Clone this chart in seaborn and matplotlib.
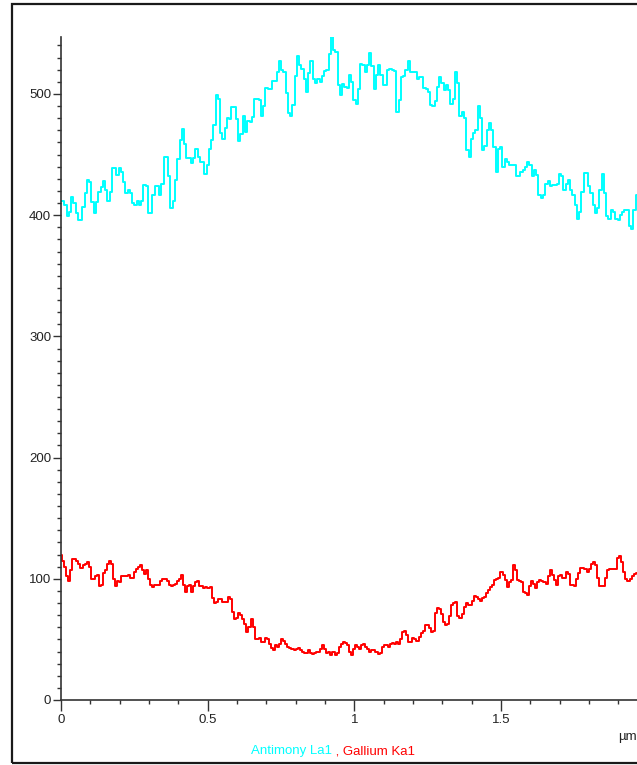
import matplotlib

matplotlib.use("Agg")
import matplotlib.pyplot as plt
import numpy as np
import pandas as pd
import seaborn as sns
from matplotlib.patches import Rectangle
from matplotlib.ticker import FuncFormatter, MultipleLocator

# line scan length (um) and counts
scan_length = 1.963

antimony_counts = [
    # 0 - 0.65 um
    412, 412, 408, 399, 403, 415, 410, 402, 396, 396, 407, 418, 429, 427, 411, 402,
    411, 419, 423, 428, 421, 412, 419, 439, 439, 433, 439, 436, 427, 418, 421, 418,
    410, 408, 412, 408, 412, 425, 424, 402, 402, 417, 424, 424, 417, 426, 448, 448,
    432, 406, 412, 429, 446, 462, 471, 459, 447, 447, 443, 447, 455, 448, 444, 444,
    434, 441, 455, 462, 474, 499, 496, 468, 463, 472, 480, 479, 489, 489, 479, 461,
    467, 482, 469,
    # 0.65 - 1.31 um
    478, 477, 481, 496, 496, 495, 482, 490, 505, 504, 504, 511, 511, 518, 527, 520,
    518, 501, 484, 482, 491, 515, 531, 524, 521, 512, 502, 517, 527, 512, 509, 512,
    510, 515, 519, 520, 533, 548, 536, 535, 507, 499, 508, 506, 505, 516, 510, 495,
    492, 504, 525, 524, 518, 524, 534, 523, 504, 516, 524, 516, 507, 507, 520, 521,
    520, 519, 485, 495, 514, 515, 520, 527, 518, 518, 518, 512, 514, 514, 505, 504,
    502, 491, 490, 494, 506, 514, 509, 503, 507, 503,
    # 1.31 - 1.96 um
    492, 496, 518, 509, 482, 485, 480, 454, 448, 463, 468, 470, 490, 480, 454, 457,
    470, 476, 470, 456, 436, 455, 456, 440, 446, 444, 441, 441, 441, 432, 432, 436,
    437, 440, 444, 441, 432, 437, 433, 417, 414, 417, 426, 428, 424, 425, 425, 426,
    434, 432, 421, 426, 429, 421, 417, 408, 397, 403, 419, 435, 435, 424, 418, 408,
    402, 406, 421, 434, 418, 399, 397, 404, 403, 397, 396, 400, 403, 404, 404, 391,
    389, 404, 417,
]

gallium_counts = [
    # 0 - 0.65 um
    120, 115, 110, 102, 98, 107, 116, 116, 115, 112, 109, 111, 112, 114, 110, 100,
    100, 102, 103, 94, 95, 105, 107, 112, 115, 112, 100, 94, 98, 97, 102, 102,
    102, 103, 101, 101, 106, 108, 110, 111, 107, 104, 107, 100, 95, 93, 95, 95,
    95, 98, 100, 100, 98, 95, 94, 95, 96, 98, 100, 103, 95, 89, 94, 95,
    89, 94, 97, 98, 94, 94, 92, 93, 92, 93, 84, 80, 81, 83, 83, 81,
    81, 81, 85, 83, 73, 67, 68, 72, 70, 67, 63, 56,
    # 0.65 - 1.31 um
    60, 67, 60, 50, 50, 51, 48, 48, 51, 50, 46, 43, 41, 45, 44, 46,
    50, 49, 46, 44, 43, 42, 41, 42, 43, 41, 40, 39, 39, 41, 39, 38,
    39, 40, 40, 42, 45, 42, 39, 40, 37, 40, 37, 39, 44, 46, 48, 47,
    45, 40, 37, 42, 45, 44, 42, 45, 46, 44, 42, 40, 41, 41, 40, 38,
    39, 44, 45, 45, 44, 46, 47, 46, 48, 46, 50, 56, 57, 54, 48, 48,
    51, 50, 49, 52, 55, 57, 62, 62, 59, 56, 57, 72, 76, 75, 71,
    # 1.31 - 1.96 um
    64, 62, 63, 69, 78, 80, 81, 69, 68, 71, 77, 80, 78, 78, 82, 86,
    85, 83, 82, 84, 85, 88, 91, 93, 95, 99, 100, 101, 106, 103, 99, 93,
    97, 99, 111, 107, 99, 98, 97, 89, 88, 87, 94, 98, 96, 92, 97, 99,
    98, 97, 96, 102, 107, 103, 99, 95, 102, 103, 101, 101, 106, 104, 95, 95,
    94, 100, 105, 109, 109, 108, 106, 108, 112, 114, 111, 101, 94, 94, 94, 101,
    107, 108, 108, 108, 108, 117, 119, 114, 106, 100, 98, 100, 102, 104, 105,
]

series_names = ["Antimony La1", "Gallium Ka1"]
series_colors = ["#00ffff", "#ff0000"]

sns.set_style("white")
plt.rcParams["font.family"] = ["Liberation Sans", "DejaVu Sans"]

fig = plt.figure(figsize=(6.37, 7.65), dpi=100)
ax = fig.add_axes([61 / 637, 65 / 765, 576 / 637, 663 / 765])

for counts, color in zip([antimony_counts, gallium_counts], series_colors):
    df = pd.DataFrame(
        {"dist": np.linspace(0, scan_length, len(counts)), "counts": counts}
    )
    sns.lineplot(
        data=df, x="dist", y="counts", color=color, lw=1.4,
        drawstyle="steps-mid", errorbar=None, ax=ax,
    )

ax.set(xlabel="", ylabel="")
ax.set_xlim(0, 1.964)
ax.set_ylim(0, 547)

ax.xaxis.set_major_locator(MultipleLocator(0.5))
ax.xaxis.set_minor_locator(MultipleLocator(0.1))
ax.yaxis.set_major_locator(MultipleLocator(100))
ax.yaxis.set_minor_locator(MultipleLocator(10))
ax.xaxis.set_major_formatter(FuncFormatter(lambda v, p: f"{v:g}"))

ax.tick_params(which="both", direction="out", color="#333333", width=1,
               labelsize=9.5, labelcolor="#222222", bottom=True, left=True)
ax.tick_params(axis="x", which="major", length=8, pad=2)
ax.tick_params(axis="y", which="major", length=6, pad=1)
ax.tick_params(which="minor", length=3)

# only left/bottom axis lines
sns.despine(ax=ax, top=True, right=True)
for side in ["left", "bottom"]:
    ax.spines[side].set_color("#333333")
    ax.spines[side].set_linewidth(1.2)

fig.text(627 / 637, 1 - 737 / 765, "µm", ha="center", va="center",
         fontsize=9.5, color="#222222")
fig.text(332 / 637, 1 - 751 / 765, series_names[0], ha="right", va="center",
         fontsize=9.5, color=series_colors[0])
fig.text(332 / 637, 1 - 751 / 765, " , " + series_names[1], ha="left",
         va="center", fontsize=9.5, color=series_colors[1])

# outer frame (right edge falls outside the picture)
fig.patches.append(
    Rectangle((12 / 637, 2 / 765), 1.2, 759 / 765, fill=False, lw=1.6,
              edgecolor="#1a1a1a", transform=fig.transFigure)
)

fig.savefig("out.png", dpi=100)
